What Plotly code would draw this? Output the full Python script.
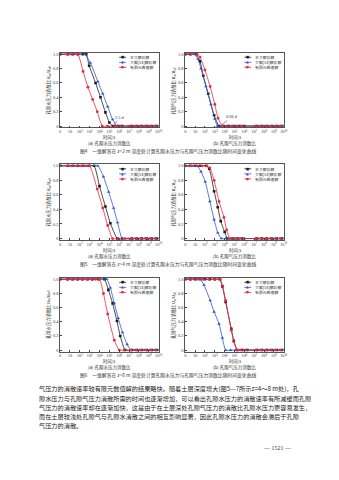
import numpy as np
import plotly.graph_objects as go

W, H = 339, 480

# ---------------- data (log10 of time in s, dissipation ratio) ----------------
# Fig.4  z = 2 m  -- (a) pore water
F4A_BLACK_LOGT = [0, 0.8, 1.3, 1.8, 2.3, 2.65, 2.95, 3.6, 4.1, 4.6, 5.0, 5.35, 5.9, 6.3, 7.3, 7.8, 8.3, 8.8, 9.3, 9.8]
F4A_BLACK_V    = [1, 1, 1, 1, 1, 1.0, 0.84, 0.60, 0.40, 0.19, 0.05, 0, 0, 0, 0, 0, 0, 0, 0, 0]
F4A_BLUE_LOGT  = [0, 0.9, 1.4, 1.9, 2.5, 3.07, 3.83, 4.33, 4.83, 5.33, 5.8, 6.1, 7.0, 7.6, 8.1, 8.6, 9.1, 9.6, 10]
F4A_BLUE_V     = [1, 1, 1, 1, 1.0, 0.88, 0.62, 0.45, 0.27, 0.09, 0, 0, 0, 0, 0, 0, 0, 0, 0]
F4A_RED_LOGT   = [0, 0.7, 1.2, 1.8, 2.33, 2.83, 3.3, 3.77, 4.27, 4.8, 5.6, 6.1, 7.1, 7.7, 8.2, 8.7, 9.2, 9.7]
F4A_RED_V      = [1, 1, 1, 1.0, 0.76, 0.54, 0.37, 0.20, 0, 0, 0, 0, 0, 0, 0, 0, 0, 0]
# Fig.4  z = 2 m  -- (b) pore air
F4B_BLACK_LOGT = [0, 0.5, 1.1, 1.5, 1.83, 2.33, 2.93, 3.43, 3.9, 4.4, 5.0, 5.5, 6.0, 7.3, 7.8, 8.3, 8.8, 9.3, 9.8]
F4B_BLACK_V    = [1, 1, 1.0, 0.90, 0.70, 0.45, 0.15, 0, 0, 0, 0, 0, 0, 0, 0, 0, 0, 0, 0]
F4B_BLUE_LOGT  = [0, 0.4, 0.9, 1.3, 1.6, 2.1, 2.6, 3.0, 3.27, 3.8, 4.3, 4.8, 5.3, 5.8, 7.1, 7.6, 8.1, 8.6, 9.1, 9.6, 10]
F4B_BLUE_V     = [1, 1, 1.0, 0.93, 0.80, 0.55, 0.30, 0.10, 0, 0, 0, 0, 0, 0, 0, 0, 0, 0, 0, 0, 0]
F4B_RED_LOGT   = [0, 0.6, 1.2, 1.5, 2.0, 2.53, 3.0, 3.33, 3.77, 4.2, 4.7, 5.2, 5.7, 7.2, 7.7, 8.2, 8.7, 9.2, 9.7]
F4B_RED_V      = [1, 1, 1.0, 0.96, 0.78, 0.55, 0.30, 0.11, 0, 0, 0, 0, 0, 0, 0, 0, 0, 0, 0]

# Fig.5  z = 4 m  -- (a) pore water
F5A_BLACK_LOGT = [0, 0.8, 1.3, 1.8, 2.3, 2.9, 3.45, 4.0, 4.6, 5.1, 5.8, 6.3, 7.3, 7.8, 8.3, 8.8, 9.3, 9.8]
F5A_BLACK_V    = [1, 1, 1, 1, 1, 1, 1.0, 0.72, 0.44, 0.21, 0, 0, 0, 0, 0, 0, 0, 0]
F5A_BLUE_LOGT  = [0, 0.9, 1.4, 1.9, 2.4, 3.0, 3.83, 4.4, 4.93, 5.43, 5.83, 6.3, 6.9, 7.6, 8.1, 8.6, 9.1, 9.6, 10]
F5A_BLUE_V     = [1, 1, 1, 1, 1, 1, 1.0, 0.85, 0.64, 0.42, 0.22, 0, 0, 0, 0, 0, 0, 0, 0]
F5A_RED_LOGT   = [0, 0.7, 1.2, 1.7, 2.2, 2.6, 3.0, 3.77, 4.33, 4.83, 5.33, 5.9, 6.6, 7.2, 7.7, 8.2, 8.7, 9.2, 9.7]
F5A_RED_V      = [1, 1, 1, 1, 1, 1, 1.0, 0.68, 0.42, 0.18, 0, 0, 0, 0, 0, 0, 0, 0, 0]
# Fig.5  z = 4 m  -- (b) pore air
F5B_BLACK_LOGT = [0, 0.5, 1.0, 1.5, 2.1, 2.43, 2.93, 3.3, 3.6, 4.0, 4.27, 4.8, 5.3, 5.8, 7.3, 7.8, 8.3, 8.8, 9.3, 9.8]
F5B_BLACK_V    = [1, 1, 1, 1, 1.0, 0.96, 0.65, 0.43, 0.24, 0.09, 0, 0, 0, 0, 0, 0, 0, 0, 0, 0]
F5B_BLUE_LOGT  = [0, 0.4, 0.8, 1.2, 1.6, 2.03, 2.5, 2.93, 3.3, 3.67, 4.1, 4.6, 5.1, 5.6, 7.1, 7.6, 8.1, 8.6, 9.1, 9.6, 10]
F5B_BLUE_V     = [1, 1, 1, 1.0, 0.92, 0.78, 0.51, 0.26, 0.08, 0, 0, 0, 0, 0, 0, 0, 0, 0, 0, 0, 0]
F5B_RED_LOGT   = [0, 0.6, 1.2, 1.7, 2.2, 2.5, 2.93, 3.43, 3.93, 4.2, 4.53, 5.0, 5.5, 6.0, 7.2, 7.7, 8.2, 8.7, 9.2, 9.7]
F5B_RED_V      = [1, 1, 1, 1, 1.0, 0.97, 0.80, 0.51, 0.29, 0.12, 0, 0, 0, 0, 0, 0, 0, 0, 0, 0]

# Fig.6  z = 6 m  -- (a) pore water
F6A_BLACK_LOGT = [0, 0.8, 1.3, 1.8, 2.3, 2.8, 3.3, 3.9, 4.5, 4.9, 5.33, 5.77, 6.1, 6.6, 7.3, 7.8, 8.3, 8.8, 9.3, 9.8]
F6A_BLACK_V    = [1, 1, 1, 1, 1, 1, 1, 1, 1.0, 0.85, 0.66, 0.41, 0.20, 0, 0, 0, 0, 0, 0, 0]
F6A_BLUE_LOGT  = [0, 0.9, 1.4, 1.9, 2.4, 2.9, 3.4, 4.0, 4.73, 5.1, 5.5, 5.9, 6.33, 6.8, 7.17, 7.6, 8.1, 8.6, 9.1, 9.6, 10]
F6A_BLUE_V     = [1, 1, 1, 1, 1, 1, 1, 1, 1.0, 0.88, 0.66, 0.45, 0.25, 0.08, 0, 0, 0, 0, 0, 0, 0]
F6A_RED_LOGT   = [0, 0.7, 1.2, 1.7, 2.2, 2.7, 3.2, 3.6, 4.0, 4.4, 4.83, 5.5, 6.0, 6.5, 7.2, 7.7, 8.2, 8.7, 9.2, 9.7]
F6A_RED_V      = [1, 1, 1, 1, 1, 1, 1, 1, 1.0, 0.80, 0.51, 0.14, 0, 0, 0, 0, 0, 0, 0, 0]
# Fig.6  z = 6 m  -- (b) pore air
F6B_BLACK_LOGT = [0, 0.5, 1.0, 1.5, 2.0, 2.5, 3.0, 3.5, 3.77, 4.1, 4.67, 4.93, 5.27, 5.8, 6.3, 7.3, 7.8, 8.3, 8.8, 9.3, 9.8]
F6B_BLACK_V    = [1, 1, 1, 1, 1, 1, 1, 1.0, 0.90, 0.68, 0.30, 0.13, 0, 0, 0, 0, 0, 0, 0, 0, 0]
F6B_BLUE_LOGT  = [0, 0.4, 0.9, 1.5, 1.9, 2.53, 2.93, 3.43, 3.77, 4.1, 4.6, 5.1, 5.6, 6.1, 7.1, 7.6, 8.1, 8.6, 9.1, 9.6, 10]
F6B_BLUE_V     = [1, 1, 1, 1.0, 0.92, 0.70, 0.54, 0.37, 0.17, 0, 0, 0, 0, 0, 0, 0, 0, 0, 0, 0, 0]
F6B_RED_LOGT   = [0, 0.6, 1.2, 1.8, 2.4, 3.0, 3.55, 3.8, 4.1, 4.67, 4.93, 5.3, 5.6, 6.0, 7.2, 7.7, 8.2, 8.7, 9.2, 9.7]
F6B_RED_V      = [1, 1, 1, 1, 1, 1, 1.0, 0.90, 0.70, 0.28, 0.12, 0, 0, 0, 0, 0, 0, 0, 0, 0]

SERIES_NAMES = ["本文解析解", "文献[14]解析解", "有限元数值解"]
X_TICK_EXP = [0, 1, 2, 3, 4, 5, 6, 7, 8, 9, 10]
X_TICK_TEXT = ["0", "10"] + ["10<sup>%d</sup>" % k for k in range(2, 11)]
Y_TICK_VALS = [0, 0.2, 0.4, 0.6, 0.8, 1.0]
Y_TICK_TEXT = ["0", "0.2", "0.4", "0.6", "0.8", "1.0"]

FIG_CAPTIONS = [
    "图4　一维解答在 z=2 m 深度处计算孔隙水压力与孔隙气压力消散比随时间变化曲线",
    "图5　一维解答在 z=4 m 深度处计算孔隙水压力与孔隙气压力消散比随时间变化曲线",
    "图6　一维解答在 z=6 m 深度处计算孔隙水压力与孔隙气压力消散比随时间变化曲线",
]
SUB_CAPTIONS = ["(a) 孔隙水压力消散比", "(b) 孔隙气压力消散比"]
Y_TITLES = ["孔隙水压力消散比 u<sub>w</sub>/u<sub>w0</sub>", "孔隙气压力消散比 u<sub>a</sub>/u<sub>a0</sub>"]
X_TITLE = "时间/s"
BODY_LINES = [
    "气压力的消散速率较有限元数值解的结果略快。随着土层深度增大(图5—7所示z=4～8 m处)，孔",
    "隙水压力与孔隙气压力消散所需的时间也逐渐增加，可以看出孔隙水压力的消散速率有所减缓而孔隙",
    "气压力的消散速率却在逐渐加快，这是由于在土层深处孔隙气压力的消散比孔隙水压力更容易发生，",
    "而在土层较浅处孔隙气与孔隙水消散之间的相互影响显著，因此孔隙水压力的消散会滞后于孔隙",
    "气压力的消散。",
]
PAGE_NO = "— 1521 —"

PANELS = [
    [(F4A_BLACK_LOGT, F4A_BLACK_V), (F4A_BLUE_LOGT, F4A_BLUE_V), (F4A_RED_LOGT, F4A_RED_V)],
    [(F4B_BLACK_LOGT, F4B_BLACK_V), (F4B_BLUE_LOGT, F4B_BLUE_V), (F4B_RED_LOGT, F4B_RED_V)],
    [(F5A_BLACK_LOGT, F5A_BLACK_V), (F5A_BLUE_LOGT, F5A_BLUE_V), (F5A_RED_LOGT, F5A_RED_V)],
    [(F5B_BLACK_LOGT, F5B_BLACK_V), (F5B_BLUE_LOGT, F5B_BLUE_V), (F5B_RED_LOGT, F5B_RED_V)],
    [(F6A_BLACK_LOGT, F6A_BLACK_V), (F6A_BLUE_LOGT, F6A_BLUE_V), (F6A_RED_LOGT, F6A_RED_V)],
    [(F6B_BLACK_LOGT, F6B_BLACK_V), (F6B_BLUE_LOGT, F6B_BLUE_V), (F6B_RED_LOGT, F6B_RED_V)],
]

# ---------------- styling / layout ----------------
COLORS = ["#1a1a1a", "#2e55c9", "#e8283c"]
SYMBOLS = ["square", "triangle-up", "circle"]
MSIZES = [2.6, 3.2, 2.8]
GLYPHS = ["■", "▲", "●"]
CJK = "Noto Sans CJK SC"
NUMF = "Liberation Serif"

COL_X = [(60, 160), (187, 287)]      # px
ROW_Y = [(52, 127), (164, 240), (278, 352)]  # px (top, bottom)
LEG_FONT = 3.9
LEG_STEP = 1.3 * LEG_FONT

def px(xp):
    return xp / W

def py(yp):
    return 1 - yp / H

fig = go.Figure()
layout = dict(
    width=W, height=H, margin=dict(l=0, r=0, t=0, b=0),
    paper_bgcolor="white", plot_bgcolor="white", showlegend=False,
)
annotations = []
shapes = []

for i, panel in enumerate(PANELS):
    r, c = divmod(i, 2)
    k = i + 1
    xa = "xaxis" if k == 1 else "xaxis%d" % k
    ya = "yaxis" if k == 1 else "yaxis%d" % k
    xr = "x" if k == 1 else "x%d" % k
    yr = "y" if k == 1 else "y%d" % k
    x0, x1 = COL_X[c]
    yt, yb = ROW_Y[r]
    layout[xa] = dict(
        domain=[px(x0), px(x1)], anchor=yr, type="log", range=[0, 10],
        tickvals=[10.0 ** e for e in X_TICK_EXP], ticktext=X_TICK_TEXT,
        ticks="inside", ticklen=2, tickwidth=0.5, tickcolor="#444",
        showline=True, linecolor="#555", linewidth=0.6, mirror=True,
        showgrid=False, zeroline=False,
        tickfont=dict(family=NUMF, size=4.2, color="#333"),
    )
    layout[ya] = dict(
        domain=[py(yb), py(yt)], anchor=xr, range=[-0.02, 1.02],
        tickvals=Y_TICK_VALS, ticktext=Y_TICK_TEXT,
        ticks="inside", ticklen=2, tickwidth=0.5, tickcolor="#444",
        showline=True, linecolor="#555", linewidth=0.6, mirror=True,
        showgrid=False, zeroline=False,
        tickfont=dict(family=NUMF, size=4.4, color="#333"),
    )
    for s, (lt, v) in enumerate(panel):
        fig.add_trace(go.Scatter(
            x=np.power(10.0, np.array(lt)), y=v, xaxis=xr, yaxis=yr,
            mode="lines+markers", name=SERIES_NAMES[s],
            line=dict(color=COLORS[s], width=0.8, shape="spline", smoothing=0.5),
            marker=dict(symbol=SYMBOLS[s], size=MSIZES[s], color=COLORS[s]),
            showlegend=False,
        ))
    # legend (manual)
    lx0 = x0 + 60
    ly0 = yt + 4.5
    for s in range(3):
        ly = ly0 + LEG_STEP * s
        shapes.append(dict(type="line", xref="paper", yref="paper",
                           x0=px(lx0), x1=px(lx0 + 7), y0=py(ly), y1=py(ly),
                           line=dict(color=COLORS[s], width=0.8)))
        annotations.append(dict(x=px(lx0 + 3.5), y=py(ly), xref="paper", yref="paper",
                                text=GLYPHS[s], showarrow=False,
                                font=dict(family="DejaVu Sans", size=3.4, color=COLORS[s]),
                                xanchor="center", yanchor="middle"))
    annotations.append(dict(x=px(lx0 + 9), y=py(ly0 + LEG_STEP), xref="paper", yref="paper",
                            text="<br>".join(SERIES_NAMES), showarrow=False, align="left",
                            font=dict(family=CJK, size=LEG_FONT, color="#333"),
                            xanchor="left", yanchor="middle"))
    # y title
    annotations.append(dict(x=px(x0 - 12), y=py((yt + yb) / 2), xref="paper", yref="paper",
                            text=Y_TITLES[c], textangle=-90, showarrow=False,
                            font=dict(family=CJK, size=4.3, color="#333"),
                            xanchor="center", yanchor="middle"))
    # x title and sub caption
    annotations.append(dict(x=px((x0 + x1) / 2), y=py(yb + 10.5), xref="paper", yref="paper",
                            text=X_TITLE, showarrow=False,
                            font=dict(family=CJK, size=4.3, color="#333"),
                            xanchor="center", yanchor="middle"))
    annotations.append(dict(x=px((x0 + x1) / 2), y=py(yb + 16.3), xref="paper", yref="paper",
                            text=SUB_CAPTIONS[c], showarrow=False,
                            font=dict(family=CJK, size=4.5, color="#333"),
                            xanchor="center", yanchor="middle"))

# figure captions
for r in range(3):
    annotations.append(dict(x=px(170), y=py(ROW_Y[r][1] + 24), xref="paper", yref="paper",
                            text=FIG_CAPTIONS[r], showarrow=False,
                            font=dict(family=CJK, size=4.8, color="#333"),
                            xanchor="center", yanchor="middle"))

# arrows with labels (fig.4)
annotations.append(dict(x=5.4, y=0.0, xref="x", yref="y", text="2.5 d",
                        showarrow=True, arrowhead=0, arrowwidth=0.5, arrowcolor="#333",
                        ax=7, ay=-9, font=dict(family=NUMF, size=4.4, color="#333")))
annotations.append(dict(x=3.65, y=0.01, xref="x2", yref="y2", text="0.06 d",
                        showarrow=True, arrowhead=0, arrowwidth=0.5, arrowcolor="#333",
                        ax=11, ay=-9, font=dict(family=NUMF, size=4.4, color="#333")))

# body text
for j, line in enumerate(BODY_LINES):
    annotations.append(dict(x=px(37), y=py(389.5 + 9.2 * j), xref="paper", yref="paper",
                            text=line, showarrow=False,
                            font=dict(family=CJK, size=6.2, color="#222"),
                            xanchor="left", yanchor="middle"))
annotations.append(dict(x=px(281), y=py(449), xref="paper", yref="paper",
                        text=PAGE_NO, showarrow=False,
                        font=dict(family=NUMF, size=6, color="#333"),
                        xanchor="center", yanchor="middle"))

layout["annotations"] = annotations
layout["shapes"] = shapes
fig.update_layout(**layout)
fig.write_html("out.html")
